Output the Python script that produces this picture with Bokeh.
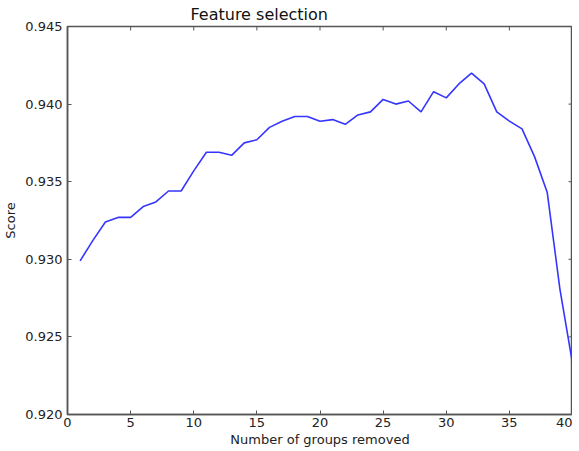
import math
from bokeh.plotting import figure
from bokeh.models import LinearAxis, FixedTicker, NumeralTickFormatter, Range1d
from bokeh.embed import file_html
from bokeh.resources import INLINE

groups_removed = list(range(1, 41))
scores = [0.9299, 0.9312, 0.9324, 0.9327, 0.9327, 0.9334, 0.9337, 0.9344, 0.9344, 0.9357,
          0.9369, 0.9369, 0.9367, 0.9375, 0.9377, 0.9385, 0.9389, 0.9392, 0.9392, 0.9389,
          0.9390, 0.9387, 0.9393, 0.9395, 0.9403, 0.9400, 0.9402, 0.9395, 0.9408, 0.9404,
          0.9413, 0.9420, 0.9413, 0.9395, 0.9389, 0.9384, 0.9366, 0.9343, 0.9281, 0.9233]
x_ticks = [0, 5, 10, 15, 20, 25, 30, 35, 40]
y_ticks = [0.920, 0.925, 0.930, 0.935, 0.940, 0.945]
x_min, x_max = 0, 40
y_min, y_max = 0.920, 0.945

FONT = "DejaVu Sans"
AX = "#555555"

p = figure(frame_width=505, frame_height=388, output_backend="svg", toolbar_location=None,
           x_range=Range1d(x_min, x_max), y_range=Range1d(y_min, y_max),
           x_axis_location=None, y_axis_location=None,
           min_border_left=0, min_border_right=0, min_border_top=0, min_border_bottom=0,
           title="Feature selection")
p.grid.visible = False
p.outline_line_color = AX
p.outline_line_width = 1.5
p.background_fill_color = "white"
p.border_fill_color = "white"

p.title.text_font = FONT
p.title.text_font_size = "16px"
p.title.text_font_style = "normal"
p.title.text_color = "#111111"
p.title.align = "left"
p.title.offset = 123
p.title.standoff = 5
p.title.text_line_height = 1.4

def style(ax):
    ax.axis_line_color = AX
    ax.axis_line_width = 1.5
    ax.major_tick_line_color = AX
    ax.major_tick_in = 4
    ax.major_tick_out = 0
    ax.minor_tick_line_color = None
    ax.major_label_text_font = FONT
    ax.major_label_text_color = "#222222"
    ax.major_label_text_font_size = "13px"
    ax.axis_label_text_font = FONT
    ax.axis_label_text_font_style = "normal"
    ax.axis_label_text_font_size = "13px"
    ax.axis_label_text_color = "#222222"

xb = LinearAxis(ticker=FixedTicker(ticks=x_ticks), axis_label="Number of groups removed")
style(xb)
xb.major_label_standoff = 3
xb.axis_label_standoff = 2
yl = LinearAxis(ticker=FixedTicker(ticks=y_ticks), formatter=NumeralTickFormatter(format="0.000"),
                axis_label="Score")
style(yl)
yl.major_label_standoff = 5
yl.axis_label_standoff = 4

p.add_layout(xb, "below")
p.add_layout(yl, "left")

# inward ticks on the top and right edges (matplotlib classic style)
p.ray(x=x_ticks, y=[y_max] * len(x_ticks), length=4, length_units="screen",
      angle=-math.pi / 2, line_color=AX, line_width=1)
p.ray(x=[x_max] * len(y_ticks), y=y_ticks, length=4, length_units="screen",
      angle=math.pi, line_color=AX, line_width=1)

p.line(groups_removed, scores, line_color="#3535ff", line_width=1.6)

open("out.html", "w").write(file_html(p, INLINE))
